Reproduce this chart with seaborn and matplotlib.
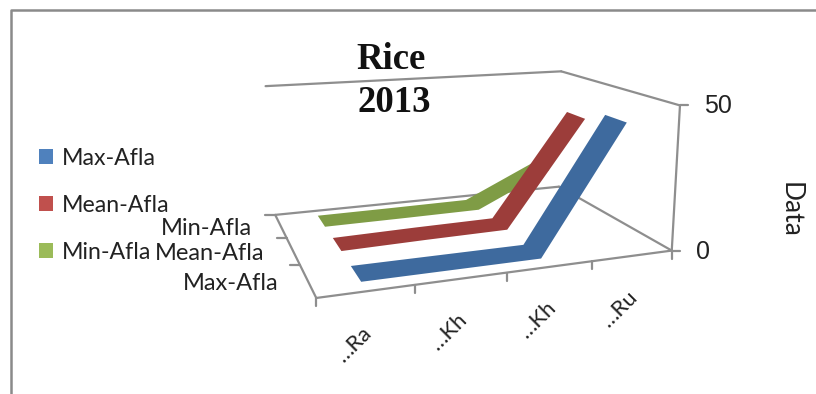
import numpy as np
import pandas as pd
import matplotlib
matplotlib.use("Agg")
import matplotlib.pyplot as plt
from matplotlib.patches import Patch
import seaborn as sns

# Chart content
categories = ["…Ra", "…Kh", "…Kh", "…Ru"]
series_names = ["Max-Afla", "Mean-Afla", "Min-Afla"]
max_afla = [0.3, 0.3, 0.3, 44.0]
mean_afla = [0.5, 1.0, 1.3, 40.0]
min_afla = [0.2, 0.3, 0.5, 14.0]
value_ticks = [0, 50]
title_lines = ["Rice", "2013"]
value_axis_title = "Data"

W, H = 816, 394
sns.set_theme(style="white")
swatch_colors = ["#4F81BD", "#C0504D", "#9BBB59"]
ribbon_colors = ["#3E6A9E", "#9C3D3A", "#7F9C45"]
frame_gray = "#8E8E8E"

df = pd.DataFrame({"category": list(range(4)) * 3,
                   "series": np.repeat(series_names, 4),
                   "value": max_afla + mean_afla + min_afla})

# Camera for the 3D box: box corners (category, series, value) -> canvas position
box_corners = np.array([(0, 0, 0), (4, 0, 0), (0, 3, 0), (4, 3, 0),
                        (4, 0, 50), (4, 3, 50), (0, 3, 50)], float)
canvas_corners = np.array([(316, 298), (671, 250), (275, 215), (560, 187),
                           (681, 106), (560, 71), (266, 86)], float)


def solve_camera(world, screen):
    rows, rhs = [], []
    for (x, y, z), (u, v) in zip(world, screen):
        rows.append([x, y, z, 1, 0, 0, 0, 0, -u * x, -u * y, -u * z])
        rows.append([0, 0, 0, 0, x, y, z, 1, -v * x, -v * y, -v * z])
        rhs += [u, v]
    p = np.linalg.lstsq(np.array(rows), np.array(rhs), rcond=None)[0]
    return np.append(p, 1).reshape(3, 4)


CAMERA = solve_camera(box_corners, canvas_corners)


def project(x, y, z):
    q = CAMERA @ np.array([x, y, z, 1.0])
    return q[0] / q[2], q[1] / q[2]


fig = plt.figure(figsize=(W / 100, H / 100), dpi=100, facecolor="white")
ax = fig.add_axes([0, 0, 1, 1])
ax.set_xlim(0, W)
ax.set_ylim(H, 0)
ax.axis("off")


def edge(a, b, lw=1.6):
    p, q = project(*a), project(*b)
    ax.plot([p[0], q[0]], [p[1], q[1]], color=frame_gray, lw=lw, solid_capstyle="round", zorder=1)


# Outer chart border
ax.plot([10.5, 10.5, W], [H, 10, 10], color="#8A8A8A", lw=1.8, zorder=1)

# Floor and walls of the box
edge((0, 0, 0), (4, 0, 0))
edge((0, 0, 0), (0, 3, 0))
edge((0, 3, 0), (4, 3, 0))
edge((4, 3, 0), (4, 0, 0))
edge((4, 0, 0), (4, 0, 50))
edge((4, 0, 50), (4, 3, 50))
edge((4, 3, 50), (0, 3, 50))

# Tick marks
for i in range(5):
    p = project(i, 0, 0)
    ax.plot([p[0], p[0]], [p[1], p[1] + 8], color=frame_gray, lw=1.6, zorder=1)
for j in range(1, 4):
    p = project(0, j, 0)
    ax.plot([p[0] - 10, p[0]], [p[1], p[1]], color=frame_gray, lw=1.6, zorder=1)
for val in value_ticks:
    p = project(4, 0, val)
    ax.plot([p[0], p[0] + 8], [p[1], p[1]], color=frame_gray, lw=1.6, zorder=1)
    ax.text(p[0] + 24, p[1] + 1, str(val), fontsize=18, family="Liberation Sans",
            color="#222222", ha="left", va="center")

# Ribbons, back series first
half_depth = 0.25
for k in (2, 1, 0):
    vals = df[df["series"] == series_names[k]]["value"].to_numpy()
    near = [project(i + 0.5, k + 0.5 - half_depth, v) for i, v in enumerate(vals)]
    far = [project(i + 0.5, k + 0.5 + half_depth, v) for i, v in enumerate(vals)]
    ax.fill(*zip(*(near + far[::-1])), color=ribbon_colors[k], lw=0, zorder=3 + (2 - k))

# Category and series labels
for i, lab in enumerate(categories):
    p = project(i + 0.5, 0, 0)
    ax.text(p[0] - 13, p[1] + 53, lab, rotation=45, fontsize=15.8, family="Lato",
            color="#222222", ha="center", va="center", rotation_mode="anchor")
for k, name in enumerate(series_names):
    p = project(0, k + 0.5, 0)
    ax.text(p[0] - 29, p[1] + 3, name, fontsize=17, family="Lato",
            color="#222222", ha="right", va="center")

ax.text(790, 210, value_axis_title, rotation=-90, fontsize=19, family="Lato",
        color="#222222", ha="center", va="center")

# Two-line title
ax.text(391.5, 59.5, title_lines[0], fontsize=26.5, family="Liberation Serif", weight="bold",
        color="#111111", ha="center", va="center", zorder=6)
ax.text(394.5, 102, title_lines[1], fontsize=26.5, family="Liberation Serif", weight="bold",
        color="#111111", ha="center", va="center", zorder=6)

handles = [Patch(facecolor=c, edgecolor="none") for c in swatch_colors]
ax.legend(handles, series_names, loc="upper left", bbox_to_anchor=(34 / W, 1 - 143 / H),
          frameon=False, prop={"family": "Lato", "size": 16.7}, labelspacing=1.12,
          handlelength=0.6, handleheight=0.6, handletextpad=0.4, labelcolor="#222222",
          borderpad=0.2, borderaxespad=0)

fig.savefig("out.png", dpi=100)
